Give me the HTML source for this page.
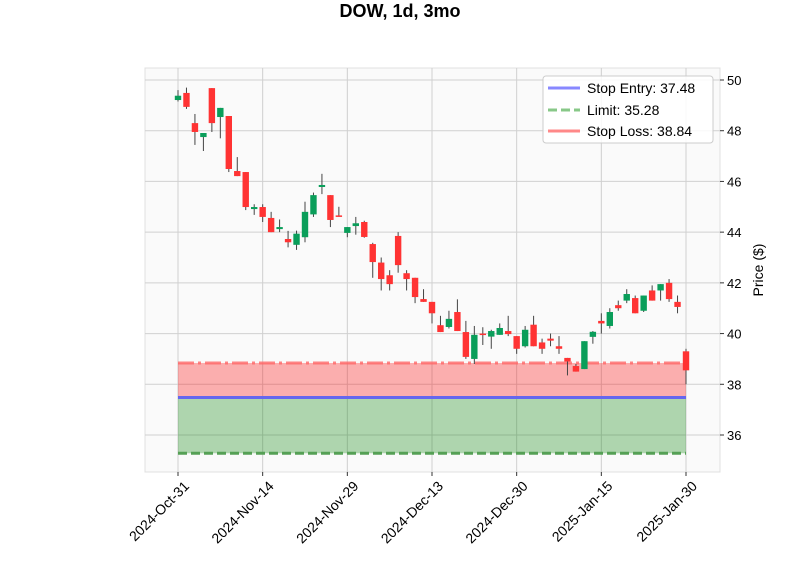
<!DOCTYPE html>
<html><head><meta charset="utf-8"><style>
body{margin:0;background:#fff;font-family:"Liberation Sans","DejaVu Sans",sans-serif}
</style></head><body>
<svg id="chart" width="800" height="575" xmlns="http://www.w3.org/2000/svg">
<text x="400" y="17" text-anchor="middle" font-size="18" font-weight="bold">DOW, 1d, 3mo</text>
<rect x="145" y="68" width="575" height="404" fill="#fafafa" stroke="#e0e0e0"/>
<g id="grid"></g><g id="zones"></g><g id="candles"></g><g id="axes"></g>
<g>
<rect x="543" y="76" width="170" height="67" fill="#fff" fill-opacity="0.85" stroke="#ccc" rx="3"/>
<line x1="548" y1="88" x2="580" y2="88" stroke="#8888ff" stroke-width="3"/>
<text x="587" y="93" font-size="14">Stop Entry: 37.48</text>
<line x1="548" y1="110" x2="580" y2="110" stroke="#88c888" stroke-width="3" stroke-dasharray="9,4"/>
<text x="587" y="115" font-size="14">Limit: 35.28</text>
<line x1="548" y1="131" x2="580" y2="131" stroke="#ff8888" stroke-width="3"/>
<text x="587" y="136" font-size="14">Stop Loss: 38.84</text>
</g>
<text transform="translate(763,270) rotate(-90)" text-anchor="middle" font-size="14">Price ($)</text>
</svg>
<script>
const opens=[49.21,49.49,48.3,47.75,49.68,48.54,48.58,46.41,46.37,44.91,44.99,44.56,44.12,43.73,43.5,43.8,44.7,45.78,45.46,44.66,43.97,44.24,44.4,43.53,42.8,42.3,43.85,42.38,42.2,41.36,41.25,40.33,40.26,40.85,40.06,39.0,40.0,39.88,39.95,40.1,39.9,39.5,40.35,39.65,39.8,39.5,39.04,38.72,38.6,39.87,40.5,40.3,41.12,41.3,41.4,40.9,41.7,41.7,42.0,41.25,39.3];
const closes=[49.38,48.94,47.95,47.91,48.3,48.9,46.49,46.21,44.99,44.99,44.6,44.0,44.2,43.6,43.94,44.8,45.46,45.86,44.48,44.62,44.2,44.35,43.81,42.82,42.15,41.95,42.7,42.15,41.44,41.25,40.8,40.06,40.58,40.1,39.08,39.95,39.95,40.1,40.22,39.98,39.4,40.15,39.5,39.4,39.72,39.4,38.9,38.5,39.7,40.07,40.4,40.85,41.0,41.56,40.8,41.5,41.3,41.95,41.36,41.05,38.55];
const highs=[49.6,49.7,48.66,47.91,49.68,48.9,48.58,46.96,46.37,45.1,45.1,44.8,44.5,44.05,44.06,45.2,45.56,46.3,45.46,45.0,44.2,44.6,44.45,43.58,43.0,42.5,44.0,42.5,42.2,41.75,41.25,40.7,40.9,41.35,40.5,40.3,40.25,40.15,40.4,40.7,39.9,40.3,40.7,39.8,40.0,39.9,39.04,38.8,39.7,40.1,40.8,41.0,41.3,41.75,41.5,41.5,41.9,41.95,42.15,41.5,39.4];
const lows=[49.15,48.86,47.44,47.2,47.95,47.7,46.37,46.21,44.87,44.68,44.4,44.0,44.0,43.4,43.3,43.6,44.6,45.5,44.2,44.62,43.8,43.9,43.78,42.2,41.7,41.7,42.4,41.7,41.2,41.25,40.4,40.06,40.2,40.1,39.0,38.8,39.55,39.4,39.95,39.9,39.2,39.45,39.5,39.2,39.5,39.2,38.35,38.5,38.6,39.6,40.0,40.2,40.9,41.2,40.8,40.85,41.3,41.3,41.25,40.8,38.0];
const yTicks=[36,38,40,42,44,46,48,50];
const xTickIdx=[0,10,20,30,40,50,60];
const xTickLabels=["2024-Oct-31","2024-Nov-14","2024-Nov-29","2024-Dec-13","2024-Dec-30","2025-Jan-15","2025-Jan-30"];
const stopEntry=37.48, limitPrice=35.28, stopLoss=38.84;
const NS="http://www.w3.org/2000/svg";
const X=i=>178+i*8.4667;
const Y=v=>80+(50-v)*25.357;
function mk(tag,attrs,parent){const e=document.createElementNS(NS,tag);for(const k in attrs)e.setAttribute(k,attrs[k]);document.getElementById(parent).appendChild(e);return e;}
yTicks.forEach(t=>{
 const g=mk('line',{x1:145,x2:720,y1:Y(t),y2:Y(t),stroke:'#d0d0d0','stroke-width':1},'grid');
 
 
 mk('line',{x1:720,x2:724,y1:Y(t),y2:Y(t),stroke:'#333'},'axes');
 const tx=mk('text',{x:727,y:Y(t)+5,'font-size':13},'axes');tx.textContent=t;
 
 
});
xTickIdx.forEach((idx,k)=>{
 const g=mk('line',{x1:X(idx),x2:X(idx),y1:68,y2:472,stroke:'#d0d0d0'},'grid');
 
 
 mk('line',{x1:X(idx),x2:X(idx),y1:472,y2:476,stroke:'#333'},'axes');
 const tx=mk('text',{x:0,y:0,'font-size':14,'text-anchor':'end',transform:`translate(${X(idx)+12},${487}) rotate(-45)`},'axes');
 tx.textContent=xTickLabels[k];
 
 
});
const x0=X(0),x1=X(opens.length-1);
let z=mk('rect',{x:x0,y:Y(stopLoss),width:x1-x0,height:Y(stopEntry)-Y(stopLoss),fill:'#ff0000','fill-opacity':0.3},'zones');


z=mk('rect',{x:x0,y:Y(stopEntry),width:x1-x0,height:Y(limitPrice)-Y(stopEntry),fill:'#008000','fill-opacity':0.3},'zones');


z=mk('line',{x1:x0,x2:x1,y1:Y(stopLoss),y2:Y(stopLoss),stroke:'#ff6666','stroke-width':3,'stroke-dasharray':'16,4,3,4','stroke-opacity':0.8},'zones');


z=mk('line',{x1:x0,x2:x1,y1:Y(limitPrice),y2:Y(limitPrice),stroke:'#55a055','stroke-width':3,'stroke-dasharray':'9,4'},'zones');


z=mk('line',{x1:x0,x2:x1,y1:Y(stopEntry),y2:Y(stopEntry),stroke:'#6666ee','stroke-width':3},'zones');


opens.forEach((o,i)=>{
 const c=closes[i],up=c>=o,col=up?'#0a9e5a':'#ff3333',cx=X(i);
 const w=mk('line',{x1:cx,x2:cx,y1:Y(highs[i]),y2:Y(lows[i]),stroke:'#444','stroke-width':1},'candles');
 
 
 const top=Y(Math.max(o,c)),h=Math.max(1.5,Math.abs(Y(o)-Y(c)));
 const b=mk('rect',{x:cx-3.2,y:top,width:6.4,height:h,fill:col},'candles');
 
 
});
</script>
</body></html>
